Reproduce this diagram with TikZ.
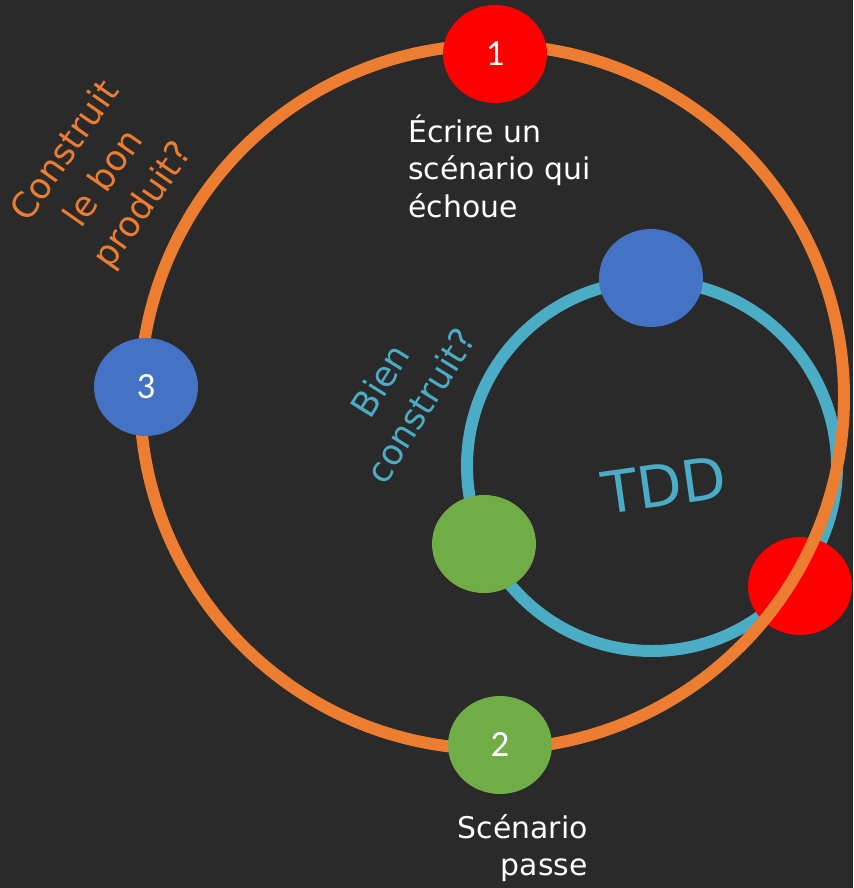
\documentclass[tikz,border=0pt]{standalone}
\usepackage{fontspec}
\setmainfont{DejaVu Sans}
\newfontfamily\numfont{Carlito}
\usetikzlibrary{shapes.geometric}
\definecolor{bgdark}{HTML}{2A2A2A}
\definecolor{ringorange}{HTML}{ED7D31}
\definecolor{ringcyan}{HTML}{4BACC6}
\definecolor{dotred}{HTML}{FF0000}
\definecolor{dotblue}{HTML}{4472C4}
\definecolor{dotgreen}{HTML}{70AD47}
\begin{document}
\begin{tikzpicture}[x=0.02cm,y=-0.02cm,
	phase/.style={ellipse,minimum width=2.08cm,minimum height=1.96cm,inner sep=0pt,text=white,font=\numfont\fontsize{21}{21}\selectfont},
	ring/.style={line width=6.8pt},
	note/.style={text=white,inner sep=0pt,font=\fontsize{17}{21.3}\selectfont},
	slanted/.style={align=center,inner sep=0pt,font=\fontsize{20}{27}\selectfont}]
\useasboundingbox (0,0) rectangle (853,888);
\fill[bgdark] (0,0) rectangle (853,888);

% inner loop
\coordinate (inner) at (652,466);
\draw[ring,ringcyan] (inner) circle[radius=185];
\node[phase,fill=dotblue]	(build)	at (651,278) {};
\node[phase,fill=dotgreen]	(green)	at (484,544) {};
\node[phase,fill=dotred]	(red)	at (800,586) {};

% outer loop
\coordinate (outer) at (492,397);
\draw[ring,ringorange] (outer) circle[radius=352];
\node[phase,fill=dotred]	(one)	at (495,54) {1};
\node[phase,fill=dotgreen]	(two)	at (500,745) {2};
\node[phase,fill=dotblue]	(three)	at (146,387) {3};

% labels
\node[note,anchor=west,align=left]	(fails)	at (408,166) {Écrire un\\scénario qui\\échoue};
\node[note,anchor=east,align=right]	(passes)	at (588,848) {Scénario\\passe};
\node[slanted,ringorange,rotate=55]	(product)	at (105,179) {Construit\\le bon\\produit?};
\node[slanted,ringcyan,rotate=58]	(quality)	at (400,393) {Bien\\construit?};
\node[ringcyan,rotate=8,font=\fontsize{33}{33}\selectfont]	(tdd)	at (664,485) {TDD};

\end{tikzpicture}
\end{document}
